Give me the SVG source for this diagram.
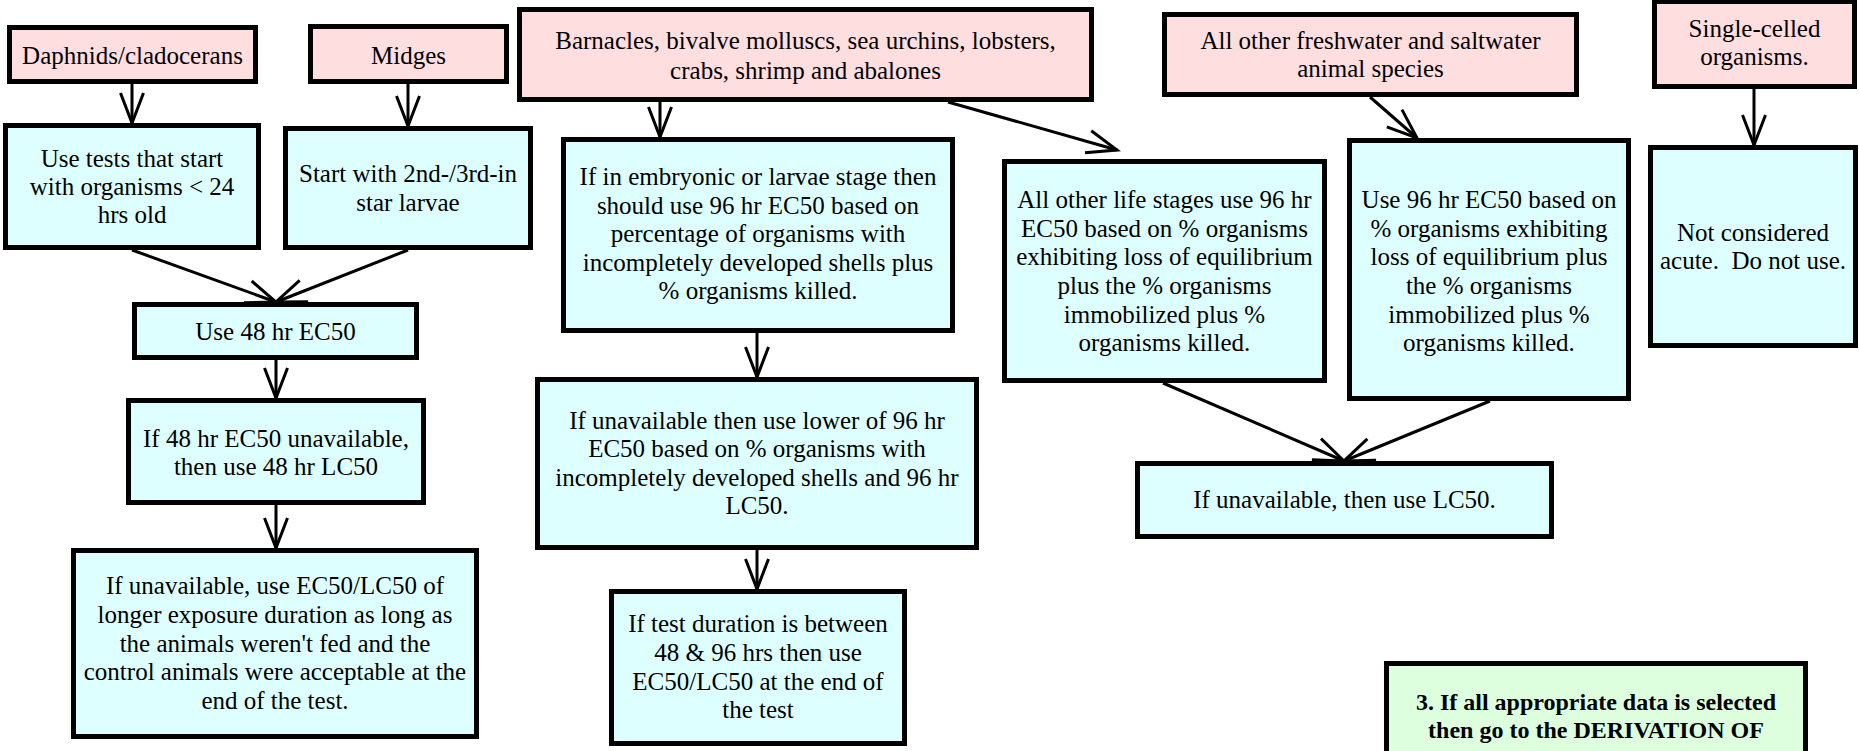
<svg xmlns="http://www.w3.org/2000/svg" width="1859" height="751" viewBox="0 0 1859 751">
  <style>
    .box { stroke: #000; stroke-width: 5; }
    .species { fill: #FFDEE0; }
    .step { fill: #DEFFFF; }
    .next { fill: #DEFFDE; }
    text { font-family: "Liberation Serif", "Times New Roman", serif; font-size: 25px; fill: #000; text-anchor: middle; white-space: pre; }
    .bold { font-weight: bold; font-size: 24px; }
    .link { stroke: #000; stroke-width: 3; fill: none; marker-end: url(#vee); }
  </style>
  <defs>
    <marker id="vee" markerUnits="userSpaceOnUse" markerWidth="40" markerHeight="30" viewBox="-34 -15 38 30" refX="0" refY="0" orient="auto" overflow="visible">
      <path d="M -30,-11.5 L 0,0 L -30,11.5" fill="none" stroke="#000" stroke-width="3" stroke-linejoin="miter"/>
    </marker>
  </defs>

  <rect width="1859" height="751" fill="#fff"/>

  <!-- connectors -->
  <g id="connectors">
    <line class="link" x1="132" y1="84" x2="132" y2="123"/>
    <line class="link" x1="408" y1="84" x2="408" y2="126"/>
    <line class="link" x1="132" y1="250" x2="276" y2="302"/>
    <line class="link" x1="408" y1="250" x2="276" y2="302"/>
    <line class="link" x1="276" y1="360" x2="276" y2="398"/>
    <line class="link" x1="276" y1="505" x2="276" y2="548"/>
    <line class="link" x1="660" y1="102" x2="660" y2="137"/>
    <line class="link" x1="948" y1="102" x2="1117" y2="150"/>
    <line class="link" x1="757" y1="333" x2="757" y2="377"/>
    <line class="link" x1="757" y1="550" x2="757" y2="589"/>
    <line class="link" x1="1370" y1="97" x2="1417" y2="138"/>
    <line class="link" x1="1754" y1="89" x2="1754" y2="145"/>
    <line class="link" x1="1163" y1="383" x2="1344" y2="461"/>
    <line class="link" x1="1490" y1="401" x2="1344" y2="461"/>
  </g>

  <!-- organism groups -->
  <g id="daphnids">
    <rect class="box species" x="9.5" y="27.5" width="246" height="54"/>
    <text x="132.5" y="64">Daphnids/cladocerans</text>
  </g>
  <g id="midges">
    <rect class="box species" x="310.5" y="26.5" width="196" height="55"/>
    <text x="408.5" y="64">Midges</text>
  </g>
  <g id="barnacles">
    <rect class="box species" x="519.5" y="9.5" width="572" height="90"/>
    <text x="805.5" y="49">Barnacles, bivalve molluscs, sea urchins, lobsters,</text>
    <text x="805.5" y="78.5">crabs, shrimp and abalones</text>
  </g>
  <g id="other-species">
    <rect class="box species" x="1164.5" y="14.5" width="412" height="80"/>
    <text x="1370.5" y="49">All other freshwater and saltwater</text>
    <text x="1370.5" y="77">animal species</text>
  </g>
  <g id="single-celled">
    <rect class="box species" x="1654.5" y="1.5" width="200" height="85"/>
    <text x="1754.5" y="37">Single-celled</text>
    <text x="1754.5" y="65">organisms.</text>
  </g>

  <!-- daphnid / midge branch -->
  <g id="young-organisms">
    <rect class="box step" x="5.5" y="125.5" width="253" height="122"/>
    <text x="132" y="167">Use tests that start</text>
    <text x="132" y="195">with organisms &lt; 24</text>
    <text x="132" y="223">hrs old</text>
  </g>
  <g id="larvae">
    <rect class="box step" x="285.5" y="128.5" width="245" height="119"/>
    <text x="408" y="182">Start with 2nd-/3rd-in</text>
    <text x="408" y="210.5">star larvae</text>
  </g>
  <g id="ec50-48">
    <rect class="box step" x="134.5" y="304.5" width="282" height="53"/>
    <text x="275.5" y="340">Use 48 hr EC50</text>
  </g>
  <g id="lc50-48">
    <rect class="box step" x="128.5" y="400.5" width="295" height="102"/>
    <text x="276" y="446.5">If 48 hr EC50 unavailable,</text>
    <text x="276" y="475">then use 48 hr LC50</text>
  </g>
  <g id="longer-exposure">
    <rect class="box step" x="73.5" y="550.5" width="403" height="186"/>
    <text x="275" y="594">If unavailable, use EC50/LC50 of</text>
    <text x="275" y="623">longer exposure duration as long as</text>
    <text x="275" y="651.5">the animals weren't fed and the</text>
    <text x="275" y="680">control animals were acceptable at the</text>
    <text x="275" y="708.5">end of the test.</text>
  </g>

  <!-- shellfish branch -->
  <g id="embryo-larvae">
    <rect class="box step" x="563.5" y="139.5" width="389" height="191"/>
    <text x="758" y="185">If in embryonic or larvae stage then</text>
    <text x="758" y="213.5">should use 96 hr EC50 based on</text>
    <text x="758" y="242">percentage of organisms with</text>
    <text x="758" y="270.5">incompletely developed shells plus</text>
    <text x="758" y="299">% organisms killed.</text>
  </g>
  <g id="lower-value">
    <rect class="box step" x="537.5" y="379.5" width="439" height="168"/>
    <text x="757" y="429">If unavailable then use lower of 96 hr</text>
    <text x="757" y="457">EC50 based on % organisms with</text>
    <text x="757" y="485.5">incompletely developed shells and 96 hr</text>
    <text x="757" y="514">LC50.</text>
  </g>
  <g id="test-duration">
    <rect class="box step" x="611.5" y="591.5" width="293" height="152"/>
    <text x="758" y="631.5">If test duration is between</text>
    <text x="758" y="660.5">48 &amp; 96 hrs then use</text>
    <text x="758" y="689.5">EC50/LC50 at the end of</text>
    <text x="758" y="718">the test</text>
  </g>
  <g id="other-life-stages">
    <rect class="box step" x="1004.5" y="161.5" width="320" height="219"/>
    <text x="1164.5" y="208">All other life stages use 96 hr</text>
    <text x="1164.5" y="236.7">EC50 based on % organisms</text>
    <text x="1164.5" y="265.4">exhibiting loss of equilibrium</text>
    <text x="1164.5" y="294">plus the % organisms</text>
    <text x="1164.5" y="322.7">immobilized plus %</text>
    <text x="1164.5" y="351.4">organisms killed.</text>
  </g>

  <!-- other animals branch -->
  <g id="ec50-96">
    <rect class="box step" x="1349.5" y="140.5" width="279" height="258"/>
    <text x="1489" y="208">Use 96 hr EC50 based on</text>
    <text x="1489" y="236.7">% organisms exhibiting</text>
    <text x="1489" y="265.4">loss of equilibrium plus</text>
    <text x="1489" y="294">the % organisms</text>
    <text x="1489" y="322.7">immobilized plus %</text>
    <text x="1489" y="351.4">organisms killed.</text>
  </g>
  <g id="not-acute">
    <rect class="box step" x="1650.5" y="147.5" width="205" height="198"/>
    <text x="1753" y="240.5">Not considered</text>
    <text x="1753" y="269">acute.  Do not use.</text>
  </g>
  <g id="use-lc50">
    <rect class="box step" x="1137.5" y="463.5" width="414" height="73"/>
    <text x="1344.5" y="508">If unavailable, then use LC50.</text>
  </g>

  <!-- next step -->
  <g id="derivation">
    <rect class="box next" x="1386.5" y="663.5" width="419" height="200"/>
    <text class="bold" x="1596" y="710">3. If all appropriate data is selected</text>
    <text class="bold" x="1596" y="738">then go to the DERIVATION OF</text>
  </g>
</svg>
